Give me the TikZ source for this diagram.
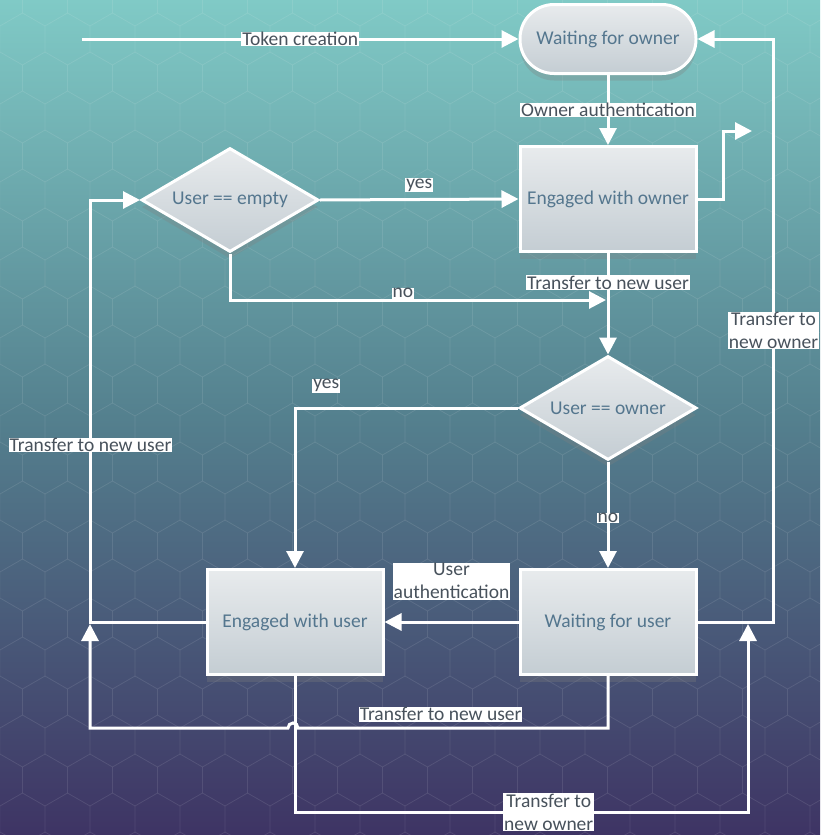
\documentclass[tikz,border=0pt]{standalone}
\usepackage{fontspec}
\setmainfont{Carlito}
\usepackage{xcolor}
\usepackage{tikz}
\usetikzlibrary{shapes.geometric,arrows.meta,shadows}

\definecolor{bgtop}{RGB}{128,202,198}
\definecolor{bgmid}{RGB}{84,128,142}
\definecolor{bgbot}{RGB}{62,52,100}
\definecolor{boxtop}{RGB}{232,235,237}
\definecolor{boxbot}{RGB}{196,205,211}
\definecolor{nodetext}{RGB}{84,118,142}
\definecolor{lbltext}{RGB}{72,82,92}
\pgfdeclareverticalshading{bgshade}{100bp}{color(0bp)=(bgbot); color(25bp)=(bgbot); color(50bp)=(bgmid); color(75bp)=(bgtop); color(100bp)=(bgtop)}

\tikzset{
  state/.style={rectangle, draw=white, line width=3pt, top color=boxtop, bottom color=boxbot,
    minimum width=176pt, minimum height=105pt, text=nodetext, font=\fontsize{19.5}{22}\selectfont,
    drop shadow={shadow xshift=0pt, shadow yshift=-7pt, opacity=0.3}},
  startstate/.style={state, rounded corners=34pt, minimum height=69pt},
  decision/.style={state, diamond, aspect=1.7, minimum width=177pt, minimum height=104pt, inner sep=0pt},
  flow/.style={draw=white, line width=3pt, -{Triangle[length=17pt,width=17pt]}},
  lbl/.style={fill=white, text=lbltext, font=\fontsize{19.5}{23}\selectfont, inner xsep=1pt, inner ysep=0.5pt, align=center},
  hex/.style={white, opacity=0.05, line width=0.8pt}
}

\begin{document}
\begin{tikzpicture}[x=1pt, y=-1pt]
        %BACKGROUND
        \useasboundingbox (0,0) rectangle (820,835);
        \shade[shading=bgshade] (0,0) rectangle (820,835);
        \begin{scope}
            \clip (0,0) rectangle (820,835);
            \foreach \i in {0,...,19}{
                \foreach \j in {0,...,22}{
                    \draw[hex] ({\i*45+mod(\j,2)*22.5},{\j*39}) +(30:26) -- +(90:26) -- +(150:26) -- +(210:26) -- +(270:26) -- +(330:26) -- cycle;
                }
            }
        \end{scope}
        %COORDINATES
        \coordinate (start) at (82,39);
        \coordinate (exitO) at (752,131);
        \coordinate (merge) at (606,300);
        \coordinate (backL) at (90,624);
        \coordinate (backR) at (748,624);
        %STATES
        \node[startstate] (WO) at (608,39) {Waiting for owner};
        \node[state] (EO) at (608,199) {Engaged with owner};
        \node[decision] (UE) at (230,200) {User == empty};
        \node[decision] (UO) at (608,408) {User == owner};
        \node[state] (WU) at (608,622) {Waiting for user};
        \node[state] (EU) at (295,622) {Engaged with user};
        %ARROWS
        \draw[flow] (start) -- node[lbl, midway]{Token creation} (WO.west);
        \draw[flow] (WO.south) -- node[lbl, midway]{Owner authentication} (EO.north);
        \draw[flow] (EO.east) -- ++(26,0) |- (exitO);
        \draw[flow] (UE.east) -- node[lbl, midway, above=6pt]{yes} (EO.west);
        \draw[flow] (UE.south) |- node[lbl, pos=0.73, above=0pt]{no} (merge);
        \draw[flow] (EO.south) -- node[lbl, pos=0.29]{Transfer to new user} (UO.north);
        \draw[flow] (UO.west) -| node[lbl, pos=0.43, above=14pt]{yes} (EU.north);
        \draw[flow] (UO.south) -- node[lbl, pos=0.53]{no} (WU.north);
        \draw[flow] (WU.west) -- node[lbl, midway, above=21pt]{User\\authentication} (EU.east);
        \draw[flow] (WU.east) -- ++(76,0) |- node[lbl, pos=0.25]{Transfer to\\new owner} (WO.east);
        \draw[flow] (EU.west) -- ++(-115,0) |- node[lbl, pos=0.21]{Transfer to new user} (UE.west);
        \draw[flow] (WU.south) |- node[lbl, pos=0.77, above=5pt]{Transfer to new user} (298,728)
            arc[start angle=0, end angle=180, radius=5pt] -- (90,728) -- (backL);
        \draw[flow] (EU.south) |- node[lbl, pos=0.78]{Transfer to\\new owner} (748,812) -- (backR);
\end{tikzpicture}
\end{document}
